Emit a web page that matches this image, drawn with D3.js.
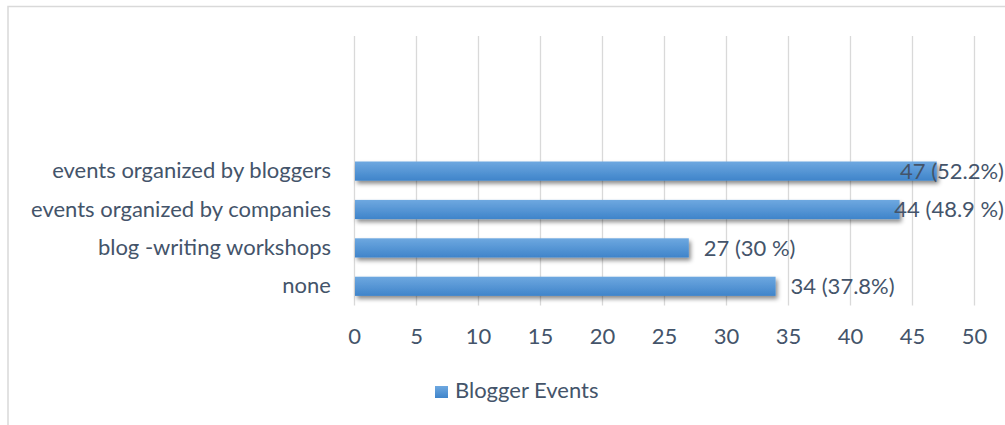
<!DOCTYPE html>
<html>
<head>
<meta charset="utf-8">
<script src="https://cdn.jsdelivr.net/npm/d3@7"></script>
<style>
  html, body { margin: 0; padding: 0; background: #ffffff; }
  svg { display: block; }
  text { font-family: Lato, "Open Sans", sans-serif; fill: #44546a; }
</style>
</head>
<body>
<svg id="chart" width="1005" height="425"></svg>
<script>
// Survey answers: which blogger events respondents have attended
const categories = ["events organized by bloggers", "events organized by companies", "blog -writing workshops", "none"];
const counts = [47, 44, 27, 34];
const percentLabels = ["52.2%", "48.9 %", "30 %", "37.8%"];
const xTicks = [0, 5, 10, 15, 20, 25, 30, 35, 40, 45, 50];
const seriesName = "Blogger Events";

const W = 1005, H = 425;
const FONT = 22;
const plot = { left: 354, right: 974, top: 36, bottom: 305.5 };

const svg = d3.select("#chart");

// gradient fill + soft shadow for the bars
const defs = svg.append("defs");
const grad = defs.append("linearGradient").attr("id", "barFill")
  .attr("x1", 0).attr("y1", 0).attr("x2", 0).attr("y2", 1);
grad.append("stop").attr("offset", "0%").attr("stop-color", "#6ea8e0");
grad.append("stop").attr("offset", "100%").attr("stop-color", "#3f84ca");
const shadow = defs.append("filter").attr("id", "barShadow")
  .attr("x", "-5%").attr("y", "-30%").attr("width", "115%").attr("height", "180%");
shadow.append("feDropShadow").attr("dx", 2).attr("dy", 3)
  .attr("stdDeviation", 2).attr("flood-color", "#000").attr("flood-opacity", 0.45);

// outer chart frame (runs off the right and bottom edges)
svg.append("rect")
  .attr("x", 8).attr("y", 6.5).attr("width", W + 20).attr("height", H + 20)
  .attr("fill", "none").attr("stroke", "#d9d9d9").attr("stroke-width", 1.5);

const x = d3.scaleLinear().domain([0, 50]).range([plot.left, plot.right]);
const step = 38.4;
const y = d3.scaleBand().domain(categories)
  .range([plot.bottom - step * categories.length, plot.bottom])
  .paddingInner(0.5).paddingOuter(0.25);

// vertical gridlines
svg.append("g").selectAll("line").data(xTicks).join("line")
  .attr("x1", d => Math.round(x(d)) + 0.5).attr("x2", d => Math.round(x(d)) + 0.5)
  .attr("y1", plot.top).attr("y2", plot.bottom)
  .attr("stroke", "#d9d9d9").attr("stroke-width", 1.3);

// x axis tick labels
const xAxis = svg.append("g")
  .attr("transform", `translate(0,${plot.bottom})`)
  .call(d3.axisBottom(x).tickValues(xTicks).tickSize(0).tickPadding(0));
xAxis.select(".domain").remove();
xAxis.selectAll("text")
  .attr("y", 38.5).attr("dy", null)
  .style("font-family", "Lato, 'Open Sans', sans-serif")
  .style("font-size", FONT + "px").style("fill", "#44546a");

// category labels
const yAxis = svg.append("g")
  .attr("transform", `translate(${plot.left},0)`)
  .call(d3.axisLeft(y).tickSize(0).tickPadding(23));
yAxis.select(".domain").remove();
yAxis.selectAll("text")
  .attr("dy", "0.32em")
  .style("font-family", "Lato, 'Open Sans', sans-serif")
  .style("font-size", FONT + "px").style("fill", "#44546a");

// bars
svg.append("g").selectAll("rect").data(categories).join("rect")
  .attr("x", x(0) + 1)
  .attr("y", d => y(d))
  .attr("width", (d, i) => x(counts[i]) - x(0) - 1)
  .attr("height", y.bandwidth())
  .attr("fill", "url(#barFill)")
  .attr("filter", "url(#barShadow)");

// value labels, kept inside the chart's right edge
const labels = svg.append("g").selectAll("text").data(categories).join("text")
  .attr("y", d => y(d) + y.bandwidth() / 2)
  .attr("dy", "0.35em")
  .style("font-size", FONT + "px")
  .text((d, i) => `${counts[i]} (${percentLabels[i]})`);
labels.each(function (d, i) {
  const w = this.getComputedTextLength();
  const px = Math.min(x(counts[i]) + 15, 1004 - w);
  d3.select(this).attr("x", px);
});

// legend
const legend = svg.append("g");
legend.append("rect")
  .attr("x", 435).attr("y", 386).attr("width", 13).attr("height", 12)
  .attr("fill", "url(#barFill)");
legend.append("text")
  .attr("x", 455).attr("y", 397.5)
  .style("font-size", FONT + "px")
  .text(seriesName);
</script>
</body>
</html>
